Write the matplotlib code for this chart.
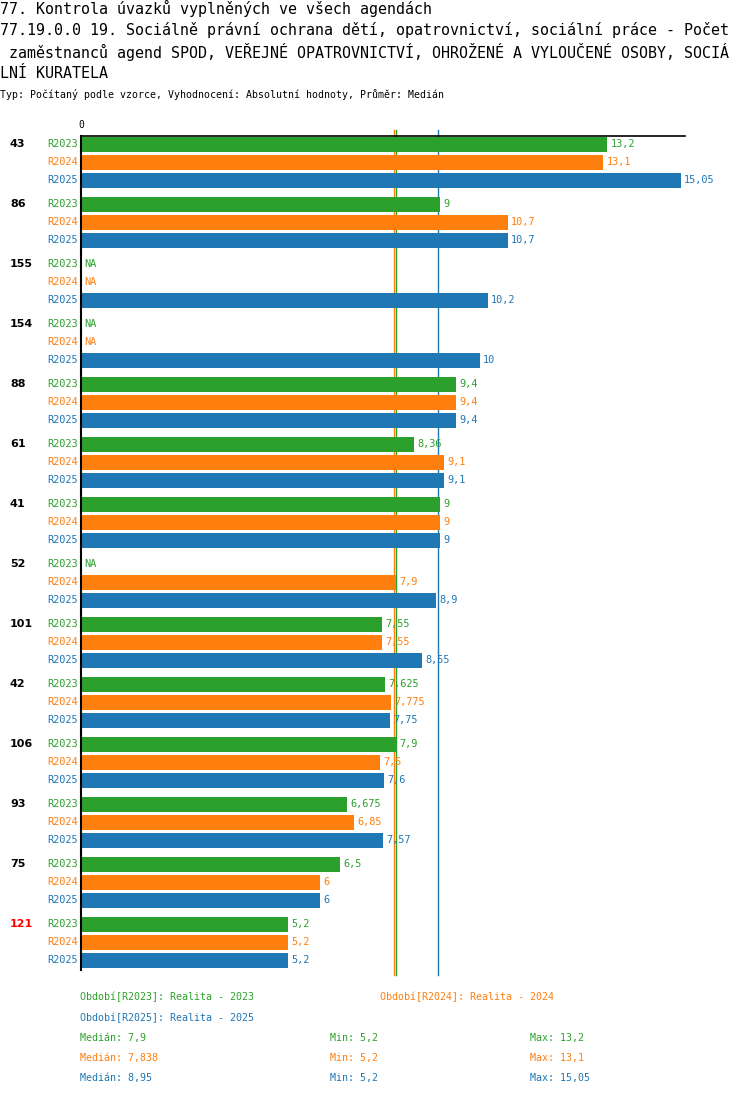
import numpy as np
import matplotlib.pyplot as plt

# data
groups = ['43', '86', '155', '154', '88', '61', '41', '52', '101', '42', '106', '93', '75', '121']
periods = ['R2023', 'R2024', 'R2025']
r2023 = [13.2, 9, np.nan, np.nan, 9.4, 8.36, 9, np.nan, 7.55, 7.625, 7.9, 6.675, 6.5, 5.2]
r2024 = [13.1, 10.7, np.nan, np.nan, 9.4, 9.1, 9, 7.9, 7.55, 7.775, 7.5, 6.85, 6, 5.2]
r2025 = [15.05, 10.7, 10.2, 10, 9.4, 9.1, 9, 8.9, 8.55, 7.75, 7.6, 7.57, 6, 5.2]
medians = [7.9, 7.838, 8.95]
mins = [5.2, 5.2, 5.2]
maxs = [13.2, 13.1, 15.05]
legend_names = ['Období[R2023]: Realita - 2023', 'Období[R2024]: Realita - 2024',
                'Období[R2025]: Realita - 2025']
highlight = '121'

colors = ['#2ca02c', '#ff7f0e', '#1f77b4']
mono = 'DejaVu Sans Mono'
W, H = 750, 1096


def fmt(v):
    return '{:g}'.format(v).replace('.', ',')


fig = plt.figure(figsize=(W / 100, H / 100), dpi=100)
# axes placed in pixel terms: x 81..685, y 136..975
ax = fig.add_axes([81 / W, 1 - 975 / H, (685 - 81) / W, (975 - 136) / H])
ax.set_xlim(0, (685 - 81) / 39.87)
ax.set_ylim(975, 136)
ax.axis('off')
ax.plot([0, 1], [1, 1], transform=ax.transAxes, color='black', lw=1.2, clip_on=False, zorder=4)
ax.plot([0, 0], [136, 970], color='black', lw=1.5, clip_on=False, zorder=4)

# median lines sit behind the bars
for m, c in zip(medians, colors):
    ax.plot([m, m], [130, 975], color=c, lw=1, clip_on=False, zorder=1)

series = [r2023, r2024, r2025]
for g, name in enumerate(groups):
    for s, vals in enumerate(series):
        y = 144 + g * 60 + s * 18
        v = vals[g]
        ax.text(-0.08, y, periods[s], color=colors[s], ha='right', va='center',
                fontsize=7.4, family=mono)
        if np.isnan(v):
            ax.text(0.08, y, 'NA', color=colors[s], ha='left', va='center',
                    fontsize=7.4, family=mono)
        else:
            ax.barh(y, v, height=15, color=colors[s], zorder=2)
            ax.text(v + 0.08, y, fmt(v), color=colors[s], ha='left', va='center',
                    fontsize=7.4, family=mono, zorder=3)
    ax.text(10 / W, 1 - (144 + g * 60) / H, name, transform=fig.transFigure,
            color='red' if name == highlight else 'black', ha='left', va='center',
            fontsize=8, fontweight='bold', family='DejaVu Sans')

ax.text(0, 125, '0', ha='center', va='center', fontsize=7, family=mono)

title = ['77. Kontrola úvazků vyplněných ve všech agendách',
         '77.19.0.0 19. Sociálně právní ochrana dětí, opatrovnictví, sociální práce - Počet',
         ' zaměstnanců agend SPOD, VEŘEJNÉ OPATROVNICTVÍ, OHROŽENÉ A VYLOUČENÉ OSOBY, SOCIÁ',
         'LNÍ KURATELA']
for i, line in enumerate(title):
    fig.text(0, 1 - (8 + 22 * i) / H, line, ha='left', va='center', fontsize=10.8, family=mono)
fig.text(0, 1 - 95 / H, 'Typ: Počítaný podle vzorce, Vyhodnocení: Absolutní hodnoty, Průměr: Medián',
         ha='left', va='center', fontsize=7.1, family=mono)

# footer legend
fs = 7.2
fig.text(80 / W, 1 - 997 / H, legend_names[0], color=colors[0], fontsize=fs, family=mono, va='center')
fig.text(380 / W, 1 - 997 / H, legend_names[1], color=colors[1], fontsize=fs, family=mono, va='center')
fig.text(80 / W, 1 - 1018 / H, legend_names[2], color=colors[2], fontsize=fs, family=mono, va='center')
for i in range(3):
    y = 1 - (1038 + 20 * i) / H
    fig.text(80 / W, y, 'Medián: ' + fmt(medians[i]), color=colors[i], fontsize=fs, family=mono, va='center')
    fig.text(330 / W, y, 'Min: ' + fmt(mins[i]), color=colors[i], fontsize=fs, family=mono, va='center')
    fig.text(530 / W, y, 'Max: ' + fmt(maxs[i]), color=colors[i], fontsize=fs, family=mono, va='center')

fig.savefig('out.png', dpi=100)
